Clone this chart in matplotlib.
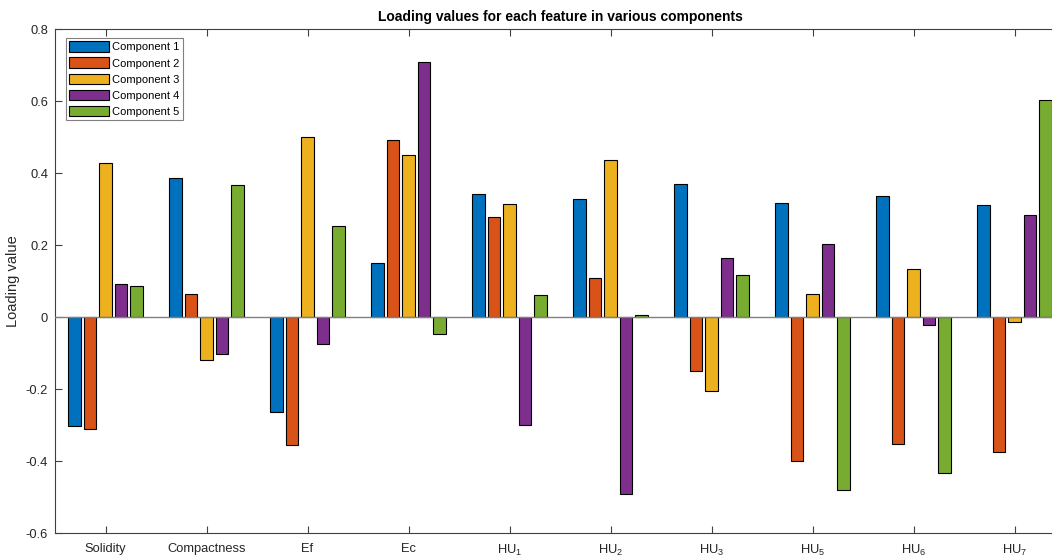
import numpy as np
import matplotlib
matplotlib.use('Agg')
import matplotlib.pyplot as plt

plt.rcParams['font.family'] = ['Liberation Sans', 'DejaVu Sans']
plt.rcParams['mathtext.fontset'] = 'custom'
plt.rcParams['mathtext.rm'] = 'Liberation Sans'
plt.rcParams['mathtext.it'] = 'Liberation Sans'
plt.rcParams['mathtext.default'] = 'regular'

features = ['Solidity', 'Compactness', 'Ef', 'Ec', 'HU$_1$', 'HU$_2$',
            'HU$_3$', 'HU$_5$', 'HU$_6$', 'HU$_7$']
components = ['Component 1', 'Component 2', 'Component 3', 'Component 4', 'Component 5']

comp1 = [-0.302, 0.387, -0.263, 0.149, 0.343, 0.329, 0.369, 0.316, 0.337, 0.310]
comp2 = [-0.310, 0.063, -0.356, 0.493, 0.279, 0.107, -0.149, -0.401, -0.352, -0.376]
comp3 = [0.427, -0.119, 0.499, 0.449, 0.313, 0.437, -0.206, 0.064, 0.134, -0.013]
comp4 = [0.093, -0.103, -0.074, 0.709, -0.300, -0.491, 0.165, 0.204, -0.021, 0.284]
comp5 = [0.0875, 0.366, 0.252, -0.048, 0.060, 0.006, 0.117, -0.480, -0.432, 0.602]

colors = ['#0072BD', '#D95319', '#EDB120', '#7E2F8E', '#77AC30']
axcol = '#404040'

fig = plt.figure(figsize=(10.52, 5.55), dpi=100)
ax = fig.add_axes([55 / 1052, 22 / 555, 1010 / 1052, 504 / 555])

x = np.arange(1, len(features) + 1)
step = 0.153
w = 0.126
for i, (vals, name) in enumerate(zip([comp1, comp2, comp3, comp4, comp5], components)):
    ax.bar(x + (i - 2) * step, vals, w, color=colors[i], edgecolor='black',
           linewidth=0.8, label=name, zorder=2)

ax.axhline(0, color='#808080', linewidth=1, zorder=3)

ax.set_xlim(0.5, 10.5)
ax.set_ylim(-0.6, 0.8)
ax.set_xticks(x)
ax.set_xticklabels(features)
ax.set_yticks(np.arange(-0.6, 0.81, 0.2))
ax.set_yticklabels(['-0.6', '-0.4', '-0.2', '0', '0.2', '0.4', '0.6', '0.8'])
ax.tick_params(direction='in', length=5, width=0.8, color=axcol, labelcolor='#262626',
               labelsize=9.3, top=True, right=True, pad=5)
ax.tick_params(axis='x', pad=7)
for s in ax.spines.values():
    s.set_color(axcol)
    s.set_linewidth(0.8)

ax.set_ylabel('Loading value', fontsize=10.5, color='#262626', labelpad=4)
ax.set_title('Loading values for each feature in various components',
             fontsize=10, fontweight='bold', pad=6)

leg = ax.legend(loc='upper left', bbox_to_anchor=(11 / 1010, 1 - 9 / 504),
                borderaxespad=0, fontsize=8, fancybox=False, framealpha=1,
                edgecolor='#808080', handlelength=3.6, handleheight=1.1,
                handletextpad=0.25, labelspacing=0.45, borderpad=0.3)
leg.get_frame().set_linewidth(0.8)

fig.savefig('out.png', dpi=100)
